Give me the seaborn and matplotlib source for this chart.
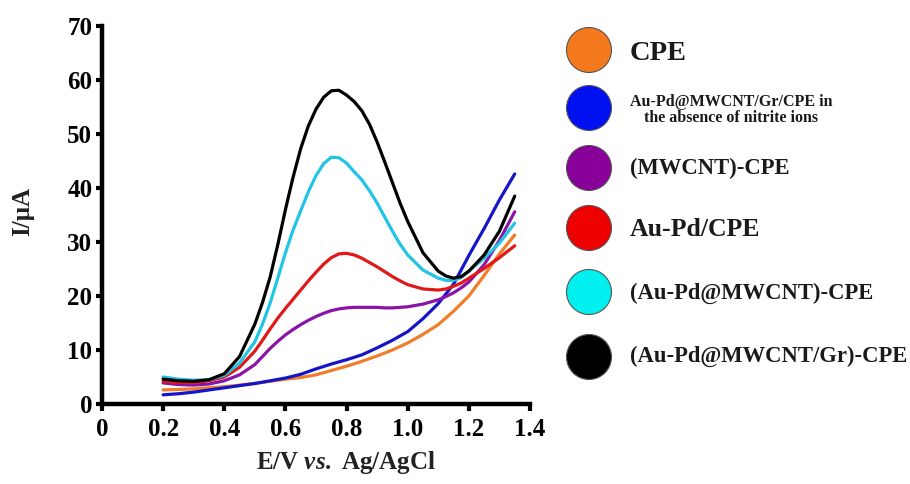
import numpy as np
import pandas as pd
import matplotlib
matplotlib.use("Agg")
import matplotlib.pyplot as plt
from matplotlib.patches import Circle
import seaborn as sns

# ---- data ----
# coarse potential grid for the monotonic curves
potential_coarse = [0.20, 0.25, 0.30, 0.35, 0.40, 0.45, 0.50, 0.55, 0.60, 0.65, 0.70, 0.75,
                    0.80, 0.85, 0.90, 0.95, 1.00, 1.05, 1.10, 1.15, 1.20, 1.25, 1.30, 1.35]
# finer grid for the curves with a peak
potential_fine = [0.20, 0.25, 0.30, 0.35, 0.40, 0.45, 0.50, 0.525, 0.55, 0.575, 0.60, 0.625,
                  0.65, 0.675, 0.70, 0.725, 0.75, 0.775, 0.80, 0.825, 0.85, 0.875, 0.90, 0.925,
                  0.95, 0.975, 1.00, 1.05, 1.10, 1.125, 1.15, 1.175, 1.20, 1.25, 1.30, 1.35]

cpe = [2.6, 2.7, 2.8, 3.0, 3.2, 3.5, 3.8, 4.2, 4.6, 4.9, 5.4, 6.2,
       7.0, 7.9, 8.9, 10.0, 11.3, 12.9, 14.7, 17.2, 20.0, 23.8, 27.8, 31.3]
blank = [1.7, 1.9, 2.2, 2.6, 3.0, 3.4, 3.8, 4.3, 4.8, 5.5, 6.5, 7.4,
         8.2, 9.1, 10.4, 11.8, 13.4, 15.8, 18.6, 22.2, 27.5, 32.5, 37.8, 42.6]
mwcnt = [3.9, 3.6, 3.5, 3.7, 4.3, 5.4, 7.3, 8.8, 10.3, 11.6, 12.8, 13.8,
         14.7, 15.5, 16.2, 16.8, 17.3, 17.6, 17.8, 17.9, 17.9, 17.9, 17.9, 17.8,
         17.8, 17.9, 18.0, 18.5, 19.3, 19.9, 20.6, 21.5, 22.6, 25.8, 30.3, 35.6]
aupd = [4.2, 4.0, 4.0, 4.3, 5.0, 6.8, 9.8, 11.8, 13.9, 15.9, 17.7, 19.4,
        21.1, 22.8, 24.4, 25.9, 27.1, 27.8, 27.9, 27.6, 27.0, 26.2, 25.4, 24.5,
        23.6, 22.8, 22.1, 21.3, 21.1, 21.3, 21.8, 22.4, 23.3, 25.1, 27.1, 29.3]
aupd_mwcnt = [5.0, 4.6, 4.4, 4.5, 5.3, 7.6, 11.5, 14.8, 18.7, 23.3, 28.0, 32.2,
              35.8, 39.3, 42.3, 44.5, 45.7, 45.6, 44.6, 43.0, 41.5, 39.5, 37.2, 34.6,
              32.0, 29.6, 27.6, 24.8, 23.3, 22.9, 22.9, 23.4, 24.6, 27.0, 29.8, 33.5]
aupd_mwcnt_gr = [4.6, 4.3, 4.2, 4.5, 5.6, 8.8, 14.8, 18.8, 23.5, 29.5, 36.0, 42.0,
                 47.3, 51.5, 54.6, 56.8, 58.0, 58.1, 57.2, 56.0, 54.3, 51.8, 48.5, 44.8,
                 41.0, 37.2, 33.8, 28.0, 24.6, 23.7, 23.3, 23.6, 24.6, 27.6, 32.0, 38.5]

series_names = ["CPE", "blank", "MWCNT", "AuPd", "AuPdMWCNT", "AuPdMWCNTGr"]
legend_labels = ["CPE",
                 "Au-Pd@MWCNT/Gr/CPE in\nthe absence of nitrite ions",
                 "(MWCNT)-CPE",
                 "Au-Pd/CPE",
                 "(Au-Pd@MWCNT)-CPE",
                 "(Au-Pd@MWCNT/Gr)-CPE"]
line_colors = ["#F07D2A", "#1414C8", "#8A14A8", "#E01818", "#22C4E6", "#000000"]
dot_colors = ["#F57A1E", "#0010F0", "#880099", "#EE0000", "#00F0F0", "#000000"]

x_ticks = [0, 0.2, 0.4, 0.6, 0.8, 1.0, 1.2, 1.4]
x_ticklabels = ["0", "0.2", "0.4", "0.6", "0.8", "1.0", "1.2", "1.4"]
y_ticks = [0, 10, 20, 30, 40, 50, 60, 70]

values = [cpe, blank, mwcnt, aupd, aupd_mwcnt, aupd_mwcnt_gr]
grids = [potential_coarse, potential_coarse, potential_fine, potential_fine,
         potential_fine, potential_fine]
df = pd.concat([pd.DataFrame({"E": g, "I": v, "series": n})
                for n, g, v in zip(series_names, grids, values)], ignore_index=True)

# ---- style ----
sns.set_style("ticks")
plt.rcParams["font.family"] = ["Liberation Serif", "DejaVu Serif"]
plt.rcParams["font.weight"] = "bold"
plt.rcParams["text.color"] = "black"
plt.rcParams["axes.edgecolor"] = "black"
plt.rcParams["axes.labelcolor"] = "black"
plt.rcParams["xtick.color"] = "black"
plt.rcParams["ytick.color"] = "black"
plt.rcParams["mathtext.fontset"] = "custom"
plt.rcParams["mathtext.rm"] = "Liberation Serif:bold"
plt.rcParams["mathtext.it"] = "Liberation Serif:italic:bold"
plt.rcParams["mathtext.bf"] = "Liberation Serif:bold"

W, H = 910, 484
fig = plt.figure(figsize=(W / 100, H / 100), dpi=100)
ax = fig.add_axes([102 / W, 1 - 404 / H, (530 - 102) / W, (404 - 26) / H])

sns.lineplot(data=df, x="E", y="I", hue="series", hue_order=series_names,
             palette=dict(zip(series_names, line_colors)), linewidth=2.3,
             errorbar=None, legend=False, ax=ax)
for ln in ax.get_lines():
    ln.set_solid_joinstyle("round")
    ln.set_solid_capstyle("round")

ax.set_xlim(0, 1.4)
ax.set_ylim(0, 70)
ax.set_xticks(x_ticks)
ax.set_xticklabels(x_ticklabels)
ax.set_yticks(y_ticks)
for s in ["top", "right"]:
    ax.spines[s].set_visible(False)
for s in ["left", "bottom"]:
    ax.spines[s].set_linewidth(3.2)
    ax.spines[s].set_color("black")
    ax.spines[s].set_capstyle("projecting")
ax.tick_params(axis="both", direction="out", width=3, colors="black",
               labelsize=18)
ax.tick_params(axis="x", length=5, pad=5)
ax.tick_params(axis="y", length=4, pad=3)
for lab in ax.get_xticklabels() + ax.get_yticklabels():
    lab.set_fontweight("bold")

ax.set_xlabel(r"E/V $\mathit{vs.}$ Ag/AgCl", fontsize=18, fontweight="bold",
              color="#222222")
ax.xaxis.set_label_coords(0.57, -0.155)
ax.xaxis.label.set_va("center")
ax.set_ylabel("I/μA", fontsize=18, fontweight="bold", color="#222222")
ax.yaxis.label.set_va("center")
ax.yaxis.set_label_coords(-0.185, 0.508)

# ---- legend drawn as circles + text in pixel space ----
lax = fig.add_axes([0, 0, 1, 1], zorder=-1)
lax.set_xlim(0, W)
lax.set_ylim(H, 0)
lax.set_aspect("equal")
lax.axis("off")
dot_y = [50, 108, 168, 228, 292, 357]
text_y = [53, 110, 168, 230, 293, 356]
text_sizes = [20.5, 11.5, 16.3, 18.5, 16.3, 16.3]
for i in range(len(series_names)):
    lax.add_patch(Circle((589, dot_y[i]), 22.5, facecolor=dot_colors[i],
                         edgecolor="#555555", linewidth=0.8))
    if i == 1:
        lax.text(630, text_y[i], legend_labels[i], fontsize=text_sizes[i],
                 fontweight="bold", ha="left", va="center", multialignment="center",
                 linespacing=1.05, color="#1a1a1a")
    else:
        lax.text(630, text_y[i], legend_labels[i], fontsize=text_sizes[i],
                 fontweight="bold", ha="left", va="center", color="#1a1a1a")

fig.savefig("out.png", dpi=100, facecolor="white")
